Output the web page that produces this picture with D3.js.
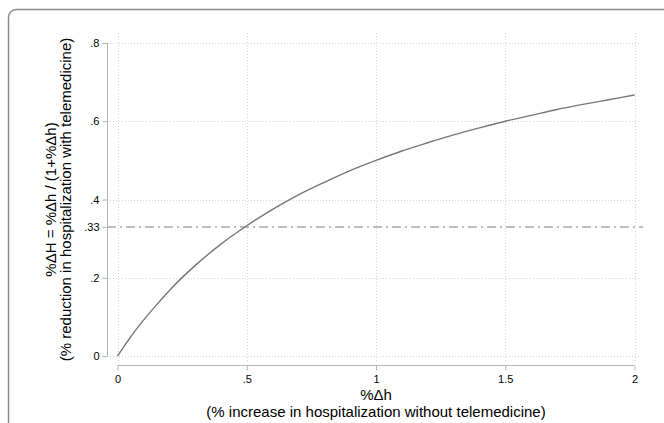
<!DOCTYPE html>
<html lang="en">
  <head>
    <meta charset="UTF-8" />
    <title>Hospitalization reduction curve</title>
    <script src="https://d3js.org/d3.v7.min.js" charset="utf-8"></script>
    <style>
      body { margin: 0; background: #fff; }
      text { font-family: "Liberation Sans", Arial, sans-serif; fill: #000; }
    </style>
  </head>
  <body>
    <svg class="chart"></svg>
    <script>
      // values
      let xVals = [0, 0.025, 0.05, 0.1, 0.15, 0.2, 0.3, 0.4, 0.5, 0.6, 0.7, 0.8, 0.9, 1.0,
                   1.1, 1.2, 1.3, 1.4, 1.5, 1.6, 1.7, 1.8, 1.9, 2.0];
      let yVals = [0, 0.024, 0.048, 0.091, 0.13, 0.167, 0.231, 0.286, 0.333, 0.375, 0.412, 0.444, 0.474, 0.5,
                   0.524, 0.545, 0.565, 0.583, 0.6, 0.615, 0.63, 0.643, 0.655, 0.667];
      let refLine = 0.33;
      let xTicks = [0, 0.5, 1, 1.5, 2];
      let xTickLabels = ["0", ".5", "1", "1.5", "2"];
      let yTicks = [0, 0.2, 0.33, 0.4, 0.6, 0.8];
      let yTickLabels = ["0", ".2", ".33", ".4", ".6", ".8"];
      let yGrid = [0, 0.2, 0.4, 0.6, 0.8];

      let width = 664;
      let height = 423;

      let svg = d3.select(".chart").attr("width", width).attr("height", height);

      // outer frame (rounded, runs off the right and bottom edges)
      svg.append("rect")
        .attr("x", 8.5).attr("y", 9.5)
        .attr("width", 700).attr("height", 450)
        .attr("rx", 8).attr("ry", 8)
        .attr("fill", "none")
        .attr("stroke", "#8a8a8a")
        .attr("stroke-width", 1.5);

      let x = d3.scaleLinear().domain([0, 2]).range([117.5, 634.5]);
      let y = d3.scaleLinear().domain([0, 0.8]).range([356, 43]);

      // grid
      svg.append("g").selectAll("line")
        .data(yGrid).enter().append("line")
        .attr("x1", 110).attr("x2", 641)
        .attr("y1", d => Math.round(y(d)) + 0.5)
        .attr("y2", d => Math.round(y(d)) + 0.5)
        .attr("stroke", "#d4d4d4").attr("stroke-dasharray", "1,2");
      svg.append("g").selectAll("line")
        .data(xTicks).enter().append("line")
        .attr("y1", 33).attr("y2", 362)
        .attr("x1", d => Math.round(x(d)) + 0.5)
        .attr("x2", d => Math.round(x(d)) + 0.5)
        .attr("stroke", "#d4d4d4").attr("stroke-dasharray", "1,2");

      // reference line at .33
      svg.append("line")
        .attr("x1", 107).attr("x2", 643)
        .attr("y1", y(refLine)).attr("y2", y(refLine))
        .attr("stroke", "#a8a8a8").attr("stroke-width", 1.5)
        .attr("stroke-dasharray", "9,4,2,4");

      // axes
      let xAxis = d3.axisBottom(x).tickValues(xTicks)
        .tickFormat((d, i) => xTickLabels[i]).tickSize(5).tickPadding(5);
      let yAxis = d3.axisLeft(y).tickValues(yTicks)
        .tickFormat((d, i) => yTickLabels[i]).tickSize(5).tickPadding(3);

      let gx = svg.append("g").attr("transform", "translate(0,365.5)").call(xAxis);
      let gy = svg.append("g").attr("transform", "translate(107.5,0)").call(yAxis);
      [gx, gy].forEach(g => {
        g.select(".domain").attr("stroke", "#b4b4b4");
        g.selectAll(".tick line").attr("stroke", "#b4b4b4");
        g.selectAll(".tick text")
          .style("font-family", "'Liberation Sans', Arial, sans-serif")
          .style("font-size", "11px").attr("fill", "#000");
      });
      gx.select(".domain").attr("d", "M" + x(0) + ",0H" + x(2));
      gy.select(".domain").attr("d", "M0," + y(0) + "V" + y(0.8));

      // curve
      let line = d3.line()
        .x((d, i) => x(xVals[i]))
        .y(d => y(d))
        .curve(d3.curveMonotoneX);
      svg.append("path")
        .datum(yVals)
        .attr("d", line)
        .attr("fill", "none")
        .attr("stroke", "#777")
        .attr("stroke-width", 1.4);

      // x title
      let cx = (x(0) + x(2)) / 2;
      svg.append("text").attr("x", cx).attr("y", 400)
        .attr("text-anchor", "middle").style("font-size", "15px")
        .text("%\u0394h");
      svg.append("text").attr("x", cx).attr("y", 417)
        .attr("text-anchor", "middle").style("font-size", "15px")
        .text("(% increase in hospitalization without telemedicine)");

      // y title
      let cy = (y(0) + y(0.8)) / 2;
      svg.append("text")
        .attr("transform", "translate(56," + cy + ") rotate(-90)")
        .attr("text-anchor", "middle").style("font-size", "15px")
        .text("%\u0394H = %\u0394h / (1+%\u0394h)");
      svg.append("text")
        .attr("transform", "translate(71," + cy + ") rotate(-90)")
        .attr("text-anchor", "middle").style("font-size", "15px")
        .text("(% reduction in hospitalization with telemedicine)");
    </script>
  </body>
</html>
